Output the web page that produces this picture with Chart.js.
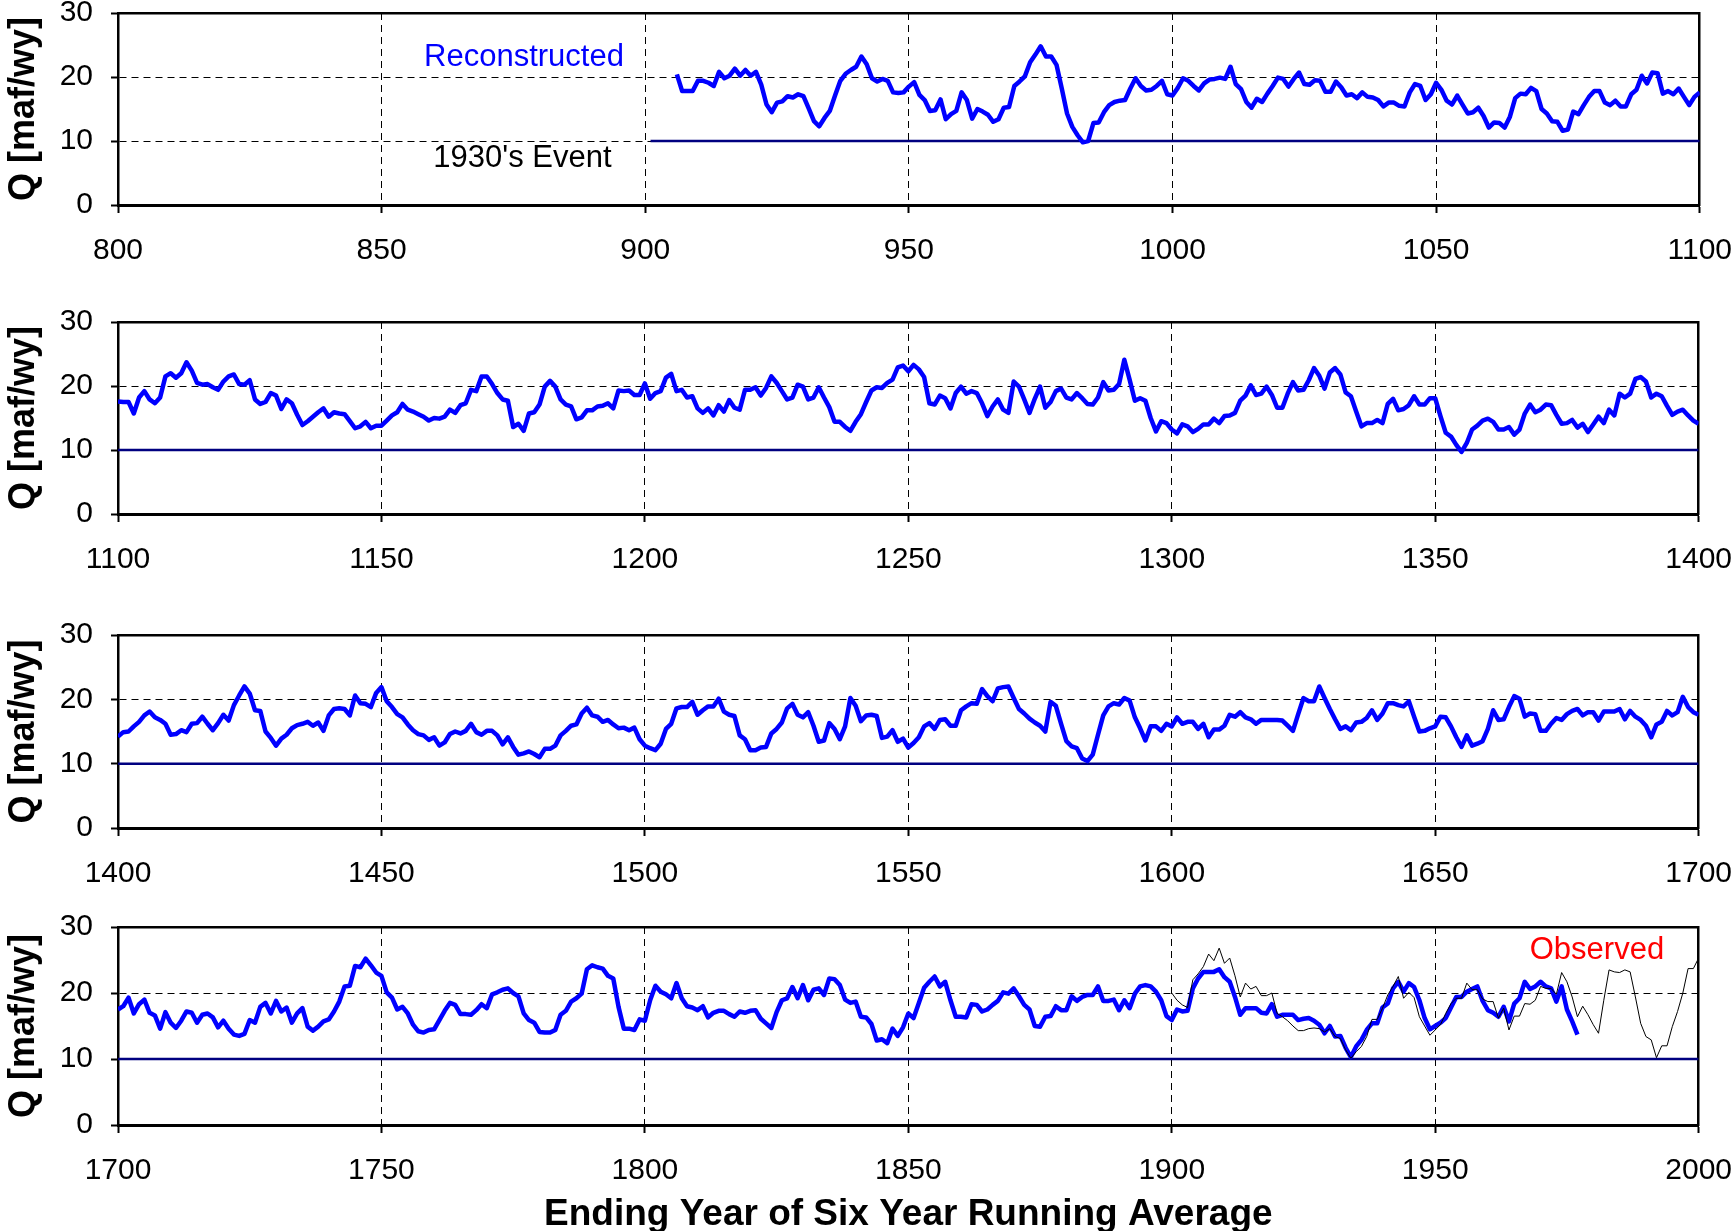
<!DOCTYPE html>
<html>
<head>
<meta charset="utf-8">
<title>Six year running average flow</title>
<script src="https://cdn.jsdelivr.net/npm/chart.js@4.4.1/dist/chart.umd.min.js"></script>
<style>
  html, body { margin: 0; padding: 0; background: #fff; overflow: hidden; }
  body { width: 1733px; height: 1231px; position: relative; }
  canvas { position: absolute; left: 0; }
</style>
</head>
<body>
<canvas id="panel1" width="1752" height="302" style="top:-27px"></canvas>
<canvas id="panel2" width="1752" height="302" style="top:282px"></canvas>
<canvas id="panel3" width="1752" height="303" style="top:595px"></canvas>
<canvas id="panel4" width="1752" height="351" style="top:887px"></canvas>
<script>
// six year running average flow [maf/wy], one value per ending year

// reconstructed, 906 - 1100
const recon906 = [
  20.4, 17.8, 17.8, 17.8,
  19.4, 19.4, 19.1, 18.6, 20.8, 19.8, 20.2, 21.3, 20.2, 21.1,
  20.2, 20.8, 18.8, 15.7, 14.5, 16.0, 16.2, 17.0, 16.8, 17.3,
  17.0, 15.1, 13.1, 12.3, 13.6, 14.7, 17.1, 19.4, 20.5, 21.1,
  21.6, 23.2, 22.0, 19.8, 19.3, 19.7, 19.4, 17.6, 17.5, 17.6,
  18.5, 19.2, 17.2, 16.4, 14.7, 14.8, 16.5, 13.4, 14.2, 14.7,
  17.6, 16.4, 13.5, 15.0, 14.6, 14.1, 13.0, 13.4, 15.2, 15.3,
  18.6, 19.3, 20.1, 22.3, 23.5, 24.8, 23.2, 23.2, 21.9, 18.2,
  14.3, 12.2, 10.9, 9.8, 10.0, 12.8, 12.9, 14.5, 15.6, 16.1,
  16.3, 16.4, 18.2, 19.8, 18.6, 17.9, 18.0, 18.6, 19.4, 17.3,
  17.1, 18.3, 19.8, 19.4, 18.6, 17.9, 19.0, 19.6, 19.7, 19.9,
  19.7, 21.6, 18.9, 18.1, 16.1, 15.2, 16.6, 16.1, 17.4, 18.6,
  19.9, 19.7, 18.5, 19.7, 20.7, 18.9, 18.8, 19.5, 19.4, 17.7,
  17.7, 19.3, 18.4, 17.1, 17.3, 16.7, 17.6, 16.9, 16.8, 16.4,
  15.4, 16.0, 16.0, 15.5, 15.4, 17.6, 18.9, 18.6, 16.4, 17.3,
  19.1, 18.0, 16.3, 15.7, 17.1, 15.7, 14.3, 14.5, 15.2, 13.9,
  12.1, 12.9, 12.8, 12.1, 13.8, 16.7, 17.4, 17.3, 18.3, 17.8,
  15.0, 14.3, 13.1, 13.0, 11.6, 11.8, 14.6, 14.2, 15.6, 16.9,
  17.8, 17.8, 16.0, 15.6, 16.3, 15.4, 15.4, 17.3, 18.0, 20.2,
  19.0, 20.7, 20.6, 17.4, 17.8, 17.3, 18.2, 16.9, 15.6, 16.9,
  17.6
];

// reconstructed, 1100 - 1400
const recon1100 = [
  17.6, 17.5, 17.5, 15.7, 18.2, 19.2, 17.9, 17.3, 18.2, 21.5,
  22.0, 21.3, 22.0, 23.7, 22.4, 20.5, 20.2, 20.3, 19.8, 19.4,
  20.7, 21.5, 21.8, 20.3, 20.2, 20.9, 17.9, 17.2, 17.5, 18.9,
  18.5, 16.4, 17.9, 17.3, 15.5, 13.9, 14.5, 15.2, 15.9, 16.5,
  15.2, 15.9, 15.7, 15.6, 14.5, 13.4, 13.7, 14.4, 13.4, 13.8,
  13.8, 14.6, 15.4, 15.9, 17.2, 16.3, 16.0, 15.6, 15.2, 14.6,
  15.0, 14.9, 15.2, 16.3, 15.8, 17.0, 17.3, 19.4, 19.2, 21.5,
  21.5, 20.3, 18.9, 17.9, 17.7, 13.6, 14.1, 13.0, 15.7, 15.9,
  17.1, 19.9, 20.8, 19.9, 17.9, 17.1, 16.8, 14.8, 15.1, 16.2,
  16.2, 16.8, 16.9, 17.3, 16.5, 19.3, 19.2, 19.3, 18.6, 18.6,
  20.4, 18.0, 18.9, 19.2, 21.3, 21.9, 19.2, 19.4, 18.2, 18.4,
  16.5, 15.8, 16.5, 15.4, 17.0, 16.0, 17.8, 16.6, 16.3, 19.4,
  19.4, 19.8, 18.5, 19.7, 21.5, 20.5, 19.2, 17.9, 18.2, 20.2,
  19.9, 17.9, 18.2, 19.8, 18.2, 16.7, 14.4, 14.4, 13.6, 13.0,
  14.4, 15.6, 17.5, 19.3, 19.8, 19.7, 20.5, 21.0, 22.9, 23.2,
  22.3, 23.3, 22.6, 21.4, 17.3, 17.1, 18.5, 18.1, 16.5, 18.9,
  19.9, 18.8, 19.2, 18.9, 17.3, 15.3, 16.8, 17.9, 16.3, 15.8,
  20.7, 19.9, 17.9, 15.8, 18.0, 19.9, 16.6, 17.5, 19.2, 19.6,
  18.2, 17.9, 18.9, 18.1, 17.2, 17.1, 18.2, 20.6, 19.3, 19.4,
  20.3, 24.1, 21.0, 17.7, 18.1, 17.7, 15.0, 12.9, 14.5, 14.2,
  13.2, 12.6, 14.0, 13.7, 12.8, 13.3, 14.0, 14.0, 14.9, 14.2,
  15.3, 15.4, 15.8, 17.7, 18.5, 20.1, 18.6, 18.8, 19.9, 18.6,
  16.6, 16.6, 18.8, 20.6, 19.3, 19.4, 20.9, 22.8, 21.6, 19.6,
  22.1, 22.8, 21.8, 19.0, 18.4, 16.0, 13.7, 14.2, 14.2, 14.7,
  14.2, 17.2, 18.0, 16.2, 16.4, 17.0, 18.4, 17.1, 17.1, 18.1,
  18.1, 15.3, 12.7, 12.1, 10.8, 9.7, 11.1, 13.2, 13.8, 14.6,
  14.9, 14.4, 13.2, 13.2, 13.6, 12.4, 13.2, 15.7, 17.1, 15.9,
  16.3, 17.1, 17.0, 15.5, 14.1, 14.2, 14.7, 13.5, 14.1, 12.8,
  14.0, 15.2, 14.2, 16.3, 15.4, 18.8, 18.2, 18.8, 21.1, 21.4,
  20.7, 18.2, 18.8, 18.4, 16.9, 15.5, 16.0, 16.3, 15.4, 14.6,
  14.1
];

// reconstructed, 1400 - 1700
const recon1400 = [
  14.2, 14.9, 15.0, 15.8, 16.5, 17.5, 18.1, 17.2, 16.8, 16.2,
  14.5, 14.6, 15.2, 14.9, 16.2, 16.3, 17.3, 16.2, 15.2, 16.3,
  17.6, 16.7, 19.1, 20.6, 22.0, 20.9, 18.3, 18.2, 15.0, 14.0,
  12.8, 13.9, 14.5, 15.5, 16.0, 16.2, 16.5, 15.9, 16.4, 15.1,
  17.5, 18.5, 18.6, 18.5, 17.5, 20.6, 19.4, 19.3, 18.8, 21.0,
  21.9, 19.7, 18.8, 17.7, 17.2, 16.1, 15.2, 14.6, 14.4, 13.7,
  14.1, 12.8, 13.3, 14.6, 15.0, 14.7, 15.1, 16.2, 14.9, 14.5,
  15.1, 15.1, 14.4, 13.0, 14.1, 12.6, 11.4, 11.6, 11.9, 11.5,
  11.0, 12.3, 12.3, 12.8, 14.4, 15.1, 15.9, 16.1, 17.8, 18.7,
  17.5, 17.3, 16.5, 16.8, 16.1, 15.5, 15.6, 15.2, 15.6, 13.8,
  12.8, 12.4, 12.1, 13.1, 15.4, 16.2, 18.6, 18.8, 18.8, 19.6,
  17.6, 18.3, 18.9, 18.9, 20.1, 18.1, 17.6, 17.4, 14.4, 13.8,
  12.1, 12.1, 12.5, 12.6, 14.7, 15.4, 16.4, 18.6, 19.3, 17.6,
  17.2, 18.0, 15.9, 13.4, 13.6, 16.3, 15.4, 13.8, 15.8, 20.2,
  19.0, 16.6, 17.5, 17.6, 17.4, 14.0, 14.2, 15.2, 13.4, 13.9,
  12.5, 13.2, 14.1, 15.8, 16.3, 15.4, 16.8, 16.9, 15.9, 15.9,
  18.3, 18.9, 19.4, 19.3, 21.6, 20.5, 19.7, 21.7, 21.9, 22.0,
  20.2, 18.5, 17.8, 17.0, 16.4, 15.9, 15.0, 19.6, 19.0, 16.2,
  13.5, 12.7, 12.4, 10.8, 10.4, 11.4, 14.5, 17.5, 18.9, 19.4,
  19.2, 20.2, 19.8, 17.2, 15.5, 13.6, 15.8, 15.8, 15.1, 16.2,
  15.8, 17.2, 16.2, 16.5, 16.5, 15.4, 16.2, 14.1, 15.3, 15.3,
  15.9, 17.6, 17.3, 18.0, 17.2, 16.9, 16.2, 16.8, 16.8, 16.8,
  16.8, 16.7, 15.9, 15.1, 17.7, 20.2, 19.7, 19.7, 22.0, 20.2,
  18.5, 16.9, 15.4, 15.8, 15.2, 16.4, 16.5, 17.1, 18.3, 16.8,
  17.8, 19.4, 19.4, 19.1, 18.9, 19.7, 17.3, 15.0, 15.1, 15.5,
  15.8, 17.3, 17.2, 15.8, 14.1, 12.6, 14.4, 12.8, 13.1, 13.5,
  15.4, 18.3, 16.8, 16.9, 18.8, 20.5, 20.1, 17.3, 17.8, 17.7,
  15.1, 15.1, 16.2, 17.1, 16.8, 17.7, 18.2, 18.5, 17.5, 18.0,
  18.0, 16.7, 18.1, 18.1, 18.1, 18.5, 16.9, 18.2, 17.3, 16.8,
  15.9, 14.1, 16.1, 16.5, 18.2, 17.5, 18.0, 20.4, 18.8, 18.0,
  17.6
];

// reconstructed, 1700 - 1977
const recon1700 = [
  17.5, 18.0, 19.3, 16.9, 18.3, 19.0, 17.0, 16.6, 14.6, 17.1,
  15.5, 14.7, 15.8, 17.2, 17.0, 15.5, 16.7, 16.9, 16.3, 14.8,
  15.8, 14.6, 13.7, 13.5, 13.8, 15.9, 15.5, 17.9, 18.5, 16.9,
  18.8, 17.2, 17.8, 15.5, 16.9, 17.7, 14.9, 14.3, 14.9, 15.7,
  16.0, 17.2, 18.7, 21.0, 21.1, 24.1, 23.9, 25.2, 24.2, 23.1,
  22.6, 20.1, 19.3, 17.5, 17.9, 16.9, 15.2, 14.2, 14.0, 14.4,
  14.5, 15.9, 17.3, 18.5, 18.2, 16.8, 16.8, 16.7, 17.4, 18.3,
  17.7, 19.8, 20.1, 20.5, 20.7, 20.0, 19.5, 16.9, 15.9, 15.5,
  14.1, 14.0, 14.0, 14.4, 16.7, 17.3, 18.7, 19.2, 19.9, 23.6,
  24.2, 23.9, 23.7, 22.6, 22.2, 17.9, 14.6, 14.6, 14.4, 16.0,
  15.8, 18.9, 21.1, 20.2, 19.8, 19.2, 21.5, 19.2, 18.0, 17.8,
  17.4, 18.0, 16.3, 17.0, 17.3, 17.3, 16.8, 16.4, 17.2, 17.0,
  17.3, 17.4, 16.1, 15.4, 14.7, 17.1, 18.9, 19.2, 20.9, 19.2,
  21.2, 18.9, 20.5, 20.7, 19.7, 22.2, 22.1, 21.2, 19.0, 18.5,
  18.7, 16.4, 16.3, 15.3, 12.8, 13.0, 12.4, 14.6, 13.5, 14.8,
  16.9, 16.2, 18.5, 20.8, 21.7, 22.5, 21.0, 21.7, 18.9, 16.4,
  16.4, 16.3, 18.3, 18.2, 17.2, 17.5, 18.2, 18.8, 20.1, 19.9,
  20.7, 19.5, 18.2, 17.5, 15.0, 14.9, 16.4, 16.5, 18.0, 17.4,
  17.4, 19.5, 18.8, 19.4, 19.7, 19.7, 21.0, 18.8, 18.8, 19.0,
  17.4, 18.9, 17.7, 19.9, 21.0, 21.2, 21.0, 20.2, 18.9, 16.5,
  15.9, 17.5, 17.2, 17.3, 20.7, 22.2, 23.2, 23.2, 23.2, 23.6,
  22.4, 21.7, 19.4, 16.7, 17.7, 17.7, 17.7, 17.0, 16.9, 18.3,
  16.4, 16.7, 16.7, 16.7, 15.9, 16.1, 16.2, 15.8, 15.2, 13.9,
  15.0, 13.4, 13.5, 11.7, 10.3, 11.9, 12.9, 14.4, 15.4, 15.4,
  17.8, 18.4, 20.7, 21.7, 20.2, 21.5, 20.9, 18.9, 16.2, 14.5,
  15.0, 15.5, 16.2, 17.8, 19.4, 19.4, 20.2, 20.6, 21.0, 18.8,
  17.4, 17.0, 16.4, 17.9, 15.7, 18.4, 19.2, 21.7, 20.6, 21.0,
  21.7, 21.0, 20.7, 18.7, 21.0, 17.5, 15.7, 13.7
];

// observed, 1900 - 2000
const observed1900 = [
  20.0, 18.9, 18.2, 17.8, 22.0, 22.9, 24.0, 25.9, 24.9, 26.8,
  24.5, 25.3, 22.6, 19.4, 21.5, 20.6, 21.0, 19.6, 19.6, 20.0,
  16.9, 16.4, 15.8, 15.0, 14.3, 14.3, 14.6, 14.7, 14.6, 14.1,
  14.6, 13.4, 13.1, 11.4, 10.1, 11.1, 11.9, 13.4, 16.0, 16.0,
  17.7, 19.7, 21.0, 22.5, 19.2, 20.1, 19.3, 16.4, 15.0, 13.6,
  14.4, 15.2, 16.9, 18.4, 19.2, 19.2, 21.5, 20.5, 20.5, 19.1,
  18.7, 18.7, 16.2, 17.7, 14.4, 16.5, 16.5, 18.4, 18.3, 18.9,
  21.0, 20.7, 20.7, 19.8, 23.1, 21.7, 19.4, 16.4, 18.0, 16.7,
  15.2, 13.9, 18.9, 23.5, 23.2, 23.1, 23.5, 23.2, 19.4, 15.4,
  13.4, 12.9, 10.2, 12.0, 12.0, 14.9, 17.2, 20.0, 23.7, 23.7,
  25.3
];

// 1930's drought event level, drawn from its start year onward
const event1930 = 10;
const eventFrom = 901;

const panelRanges = [[800, 1100], [1100, 1400], [1400, 1700], [1700, 2000]];
const yMin = 0, yMax = 30, yStep = 10, xStep = 50;

Chart.defaults.font.family = "'Liberation Sans', Arial, sans-serif";
Chart.defaults.font.size = 30;
Chart.defaults.color = '#000';

const fontFamily = "'Liberation Sans', Arial, sans-serif";
const dash = [7, 5];

// plain text notes placed at data coordinates
const notes = {
    id: 'notes',
    afterDatasetsDraw(chart, args, opts) {
        const {ctx, scales} = chart;
        (opts.items || []).forEach((item) => {
            ctx.save();
            ctx.font = '31px ' + fontFamily;
            ctx.fillStyle = item.color;
            ctx.textAlign = 'center';
            ctx.textBaseline = 'middle';
            ctx.fillText(item.text, scales.x.getPixelForValue(item.x), scales.y.getPixelForValue(item.y));
            ctx.restore();
        });
    }
};

function toPoints(start, values) {
    return values.map((v, i) => ({x: start + i, y: v}));
}

function edgeColor(lo, hi) {
    return (c) => (c.tick && (c.tick.value === lo || c.tick.value === hi)) ? 'rgba(0,0,0,0)' : '#000';
}

function makePanel(id, range, reconStart, recon, obs, items, isLast) {
    const [xMin, xMax] = range;
    const datasets = [];
    if (obs) {
        datasets.push({data: toPoints(1900, obs), borderColor: '#000', borderWidth: 1});
    }
    datasets.push({data: toPoints(reconStart, recon), borderColor: '#0000ff', borderWidth: 4.5});
    datasets.push({
        data: [{x: Math.max(xMin, eventFrom), y: event1930}, {x: xMax, y: event1930}],
        borderColor: '#000080', borderWidth: 2.5
    });

    return new Chart(document.getElementById(id), {
        type: 'line',
        data: {datasets},
        options: {
            responsive: false,
            animation: false,
            devicePixelRatio: 1,
            events: [],
            layout: {padding: {top: 40, right: 34, bottom: 0, left: 0}},
            elements: {
                point: {radius: 0},
                line: {tension: 0, borderJoinStyle: 'round', fill: false}
            },
            plugins: {
                legend: {display: false},
                tooltip: {enabled: false},
                notes: {items}
            },
            scales: {
                x: {
                    type: 'linear',
                    min: xMin,
                    max: xMax,
                    afterFit: (s) => { s.height = isLast ? 113 : 70; },
                    ticks: {stepSize: xStep, padding: 20, maxRotation: 0, autoSkip: false, callback: (v) => String(v)},
                    grid: {color: edgeColor(xMin, xMax), lineWidth: 1, tickLength: 8, tickColor: '#000', tickWidth: 2},
                    border: {display: true, color: '#000', width: 3, dash},
                    title: {
                        display: isLast,
                        text: 'Ending Year of Six Year Running Average',
                        font: {size: 37, weight: 'bold'},
                        padding: {top: 0, bottom: 1}
                    }
                },
                y: {
                    type: 'linear',
                    min: yMin,
                    max: yMax,
                    afterFit: (s) => { s.width = 118; },
                    ticks: {stepSize: yStep, padding: 18},
                    grid: {color: edgeColor(yMin, yMax), lineWidth: 1, tickLength: 7, tickColor: '#000', tickWidth: 2},
                    border: {display: true, color: '#000', width: 2.5, dash},
                    title: {
                        display: true,
                        text: 'Q [maf/wy]',
                        font: {size: 36, weight: 'bold'},
                        padding: {top: 2, bottom: 0}
                    }
                },
                xTop: {
                    type: 'linear',
                    position: 'top',
                    afterFit: (s) => { s.height = 0; },
                    ticks: {display: false},
                    grid: {display: false, drawTicks: false},
                    border: {display: true, color: '#000', width: 2.5}
                },
                yRight: {
                    type: 'linear',
                    position: 'right',
                    afterFit: (s) => { s.width = 0; },
                    ticks: {display: false},
                    grid: {display: false, drawTicks: false},
                    border: {display: true, color: '#000', width: 2.5}
                }
            }
        },
        plugins: [notes]
    });
}

makePanel('panel1', panelRanges[0], 906, recon906, null, [
    {text: 'Reconstructed', x: 877, y: 23.0, color: '#0000ff'},
    {text: "1930's Event", x: 876.7, y: 7.3, color: '#000'}
], false);
makePanel('panel2', panelRanges[1], 1100, recon1100, null, [], false);
makePanel('panel3', panelRanges[2], 1400, recon1400, null, [], false);
makePanel('panel4', panelRanges[3], 1700, recon1700, observed1900, [
    {text: 'Observed', x: 1980.7, y: 26.5, color: '#ff0000'}
], true);
</script>
</body>
</html>
